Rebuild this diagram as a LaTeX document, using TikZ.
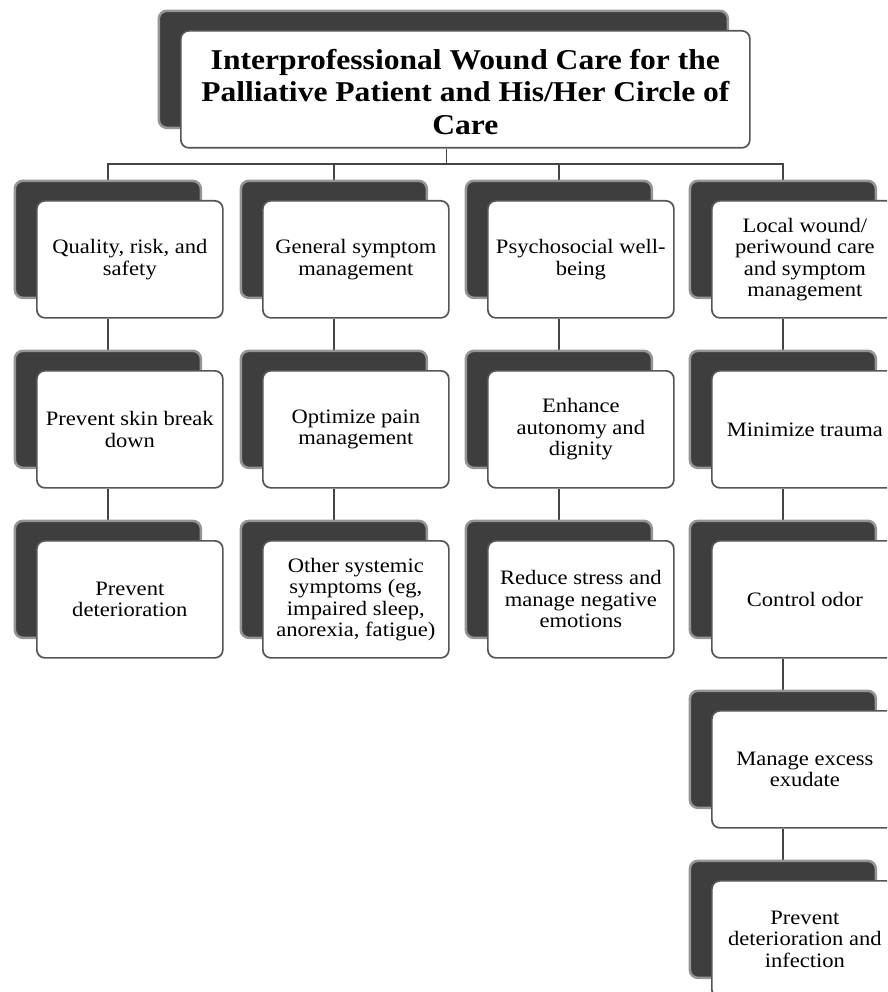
\documentclass[tikz,border=0pt]{standalone}
\usepackage{fontspec}
\setmainfont[FakeStretch=1.10]{Liberation Serif}
\usetikzlibrary{shadows}
\pgfdeclarelayer{background}
\pgfsetlayers{background,main}
\definecolor{boxline}{HTML}{555555}
\definecolor{conn}{HTML}{454545}
\definecolor{shadowc}{HTML}{3E3E3E}
\tikzset{
  box/.style={draw=boxline, line width=1.7pt, rounded corners=8pt, fill=white,
    anchor=north west, minimum width=186pt, minimum height=117pt, inner sep=0pt,
    align=center, font=\fontsize{20.5}{21.5}\selectfont,
    general shadow={fill=shadowc, draw=shadowc!55, line width=2.5pt,
      shadow xshift=-22pt, shadow yshift=20pt}},
  titlebox/.style={box, minimum width=569pt, font=\bfseries\fontsize{28.7}{32.5}\selectfont},
  connector/.style={draw=conn, line width=1.6pt}
}
\begin{document}
\begin{tikzpicture}[x=1pt,y=-1pt]
\useasboundingbox (0,0) rectangle (887,992);
\clip (0,0) rectangle (887,992);
% title
\node[titlebox] (t) at (180,30) {\raisebox{-6pt}[\height][\depth]{\begin{tabular}{@{}c@{}}Interprofessional Wound Care for the\\Palliative Patient and His/Her Circle of\\Care\end{tabular}}};
% column 1
\node[box] (a1) at (36,200) {Quality, risk, and\\safety};
\node[box] (a2) at (36,370) {Prevent skin break\\down};
\node[box] (a3) at (36,540) {Prevent\\deterioration};
% column 2
\node[box] (b1) at (262,200) {General symptom\\management};
\node[box] (b2) at (262,370) {Optimize pain\\management};
\node[box] (b3) at (262,540) {Other systemic\\symptoms (eg,\\impaired sleep,\\anorexia, fatigue)};
% column 3
\node[box] (c1) at (487,200) {Psychosocial well-\\being};
\node[box] (c2) at (487,370) {Enhance\\autonomy and\\dignity};
\node[box] (c3) at (487,540) {Reduce stress and\\manage negative\\emotions};
% column 4
\node[box] (d1) at (711,200) {Local wound/\\periwound care\\and symptom\\management};
\node[box] (d2) at (711,370) {Minimize trauma};
\node[box] (d3) at (711,540) {Control odor};
\node[box] (d4) at (711,710) {Manage excess\\exudate};
\node[box] (d5) at (711,880) {Prevent\\deterioration and\\infection};
\coordinate (bar) at (0,164);
\begin{pgfonlayer}{background}
\draw[connector] ([xshift=-19pt]t.south) -- ([xshift=-19pt]t.south |- bar);
\draw[connector] ([xshift=-22pt]a1.north) -- ([xshift=-22pt]a1.north |- bar) -- ([xshift=-22pt]d1.north |- bar) -- ([xshift=-22pt]d1.north);
\draw[connector] ([xshift=-22pt]b1.north) -- ([xshift=-22pt]b1.north |- bar);
\draw[connector] ([xshift=-22pt]c1.north) -- ([xshift=-22pt]c1.north |- bar);
\draw[connector] ([xshift=-22pt]a1.south) -- ([xshift=-22pt]a2.north);
\draw[connector] ([xshift=-22pt]a2.south) -- ([xshift=-22pt]a3.north);
\draw[connector] ([xshift=-22pt]b1.south) -- ([xshift=-22pt]b2.north);
\draw[connector] ([xshift=-22pt]b2.south) -- ([xshift=-22pt]b3.north);
\draw[connector] ([xshift=-22pt]c1.south) -- ([xshift=-22pt]c2.north);
\draw[connector] ([xshift=-22pt]c2.south) -- ([xshift=-22pt]c3.north);
\draw[connector] ([xshift=-22pt]d1.south) -- ([xshift=-22pt]d2.north);
\draw[connector] ([xshift=-22pt]d2.south) -- ([xshift=-22pt]d3.north);
\draw[connector] ([xshift=-22pt]d3.south) -- ([xshift=-22pt]d4.north);
\draw[connector] ([xshift=-22pt]d4.south) -- ([xshift=-22pt]d5.north);
\end{pgfonlayer}
\end{tikzpicture}
\end{document}
